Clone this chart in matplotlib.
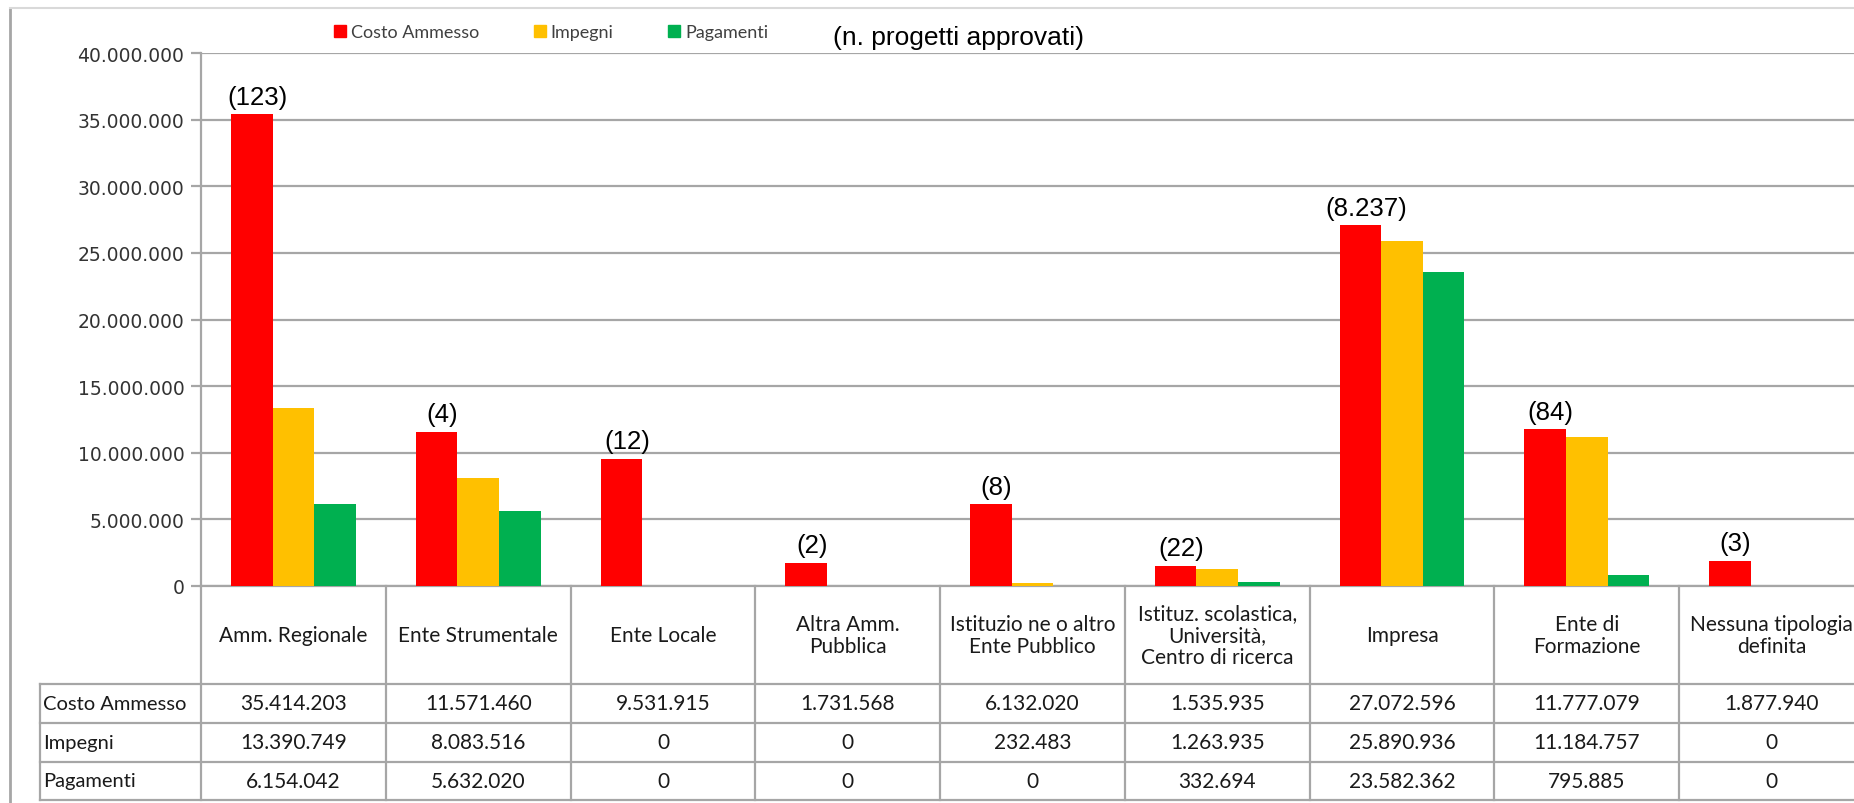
import matplotlib
matplotlib.use('Agg')
import matplotlib.pyplot as plt
import numpy as np
from matplotlib.lines import Line2D
from matplotlib.ticker import FuncFormatter

categorie = ["Amm. Regionale", "Ente Strumentale", "Ente Locale", "Altra Amm.\nPubblica",
             "Istituzio ne o altro\nEnte Pubblico",
             "Istituz. scolastica,\nUniversità,\nCentro di ricerca",
             "Impresa", "Ente di\nFormazione", "Nessuna tipologia\ndefinita"]
costo_ammesso = [35414203, 11571460, 9531915, 1731568, 6132020, 1535935, 27072596, 11777079, 1877940]
impegni = [13390749, 8083516, 0, 0, 232483, 1263935, 25890936, 11184757, 0]
pagamenti = [6154042, 5632020, 0, 0, 0, 332694, 23582362, 795885, 0]
n_progetti = ["(123)", "(4)", "(12)", "(2)", "(8)", "(22)", "(8.237)", "(84)", "(3)"]
serie = ["Costo Ammesso", "Impegni", "Pagamenti"]
colori = ["#FF0000", "#FFC000", "#00B050"]
y_ticks = np.arange(0, 40000001, 5000000)

W, H = 1854, 804
GRIGIO = '#a6a6a6'
TESTO = '#1a1a1a'


def fx(p):
    return p / W


def fy(p):
    return 1 - p / H


def fmt(v):
    return f"{int(v):,}".replace(",", ".")


fig = plt.figure(figsize=(W / 100, H / 100), dpi=100)

# area del grafico (esce un po' a destra, come nell'originale)
x0, x1, ytop, yzero, ybot = 201, 1864, 54, 587, 801
ax = fig.add_axes([fx(x0), fy(yzero), fx(x1 - x0), (yzero - ytop) / H])
x = np.arange(len(categorie))
bw = 0.225
valori = [costo_ammesso, impegni, pagamenti]
for i in range(3):
    ax.bar(x + (i - 1) * bw, valori[i], bw, color=colori[i], zorder=3)

ax.set_xlim(-0.5, len(categorie) - 0.5)
ax.set_ylim(0, 40000000)
ax.set_yticks(y_ticks)
ax.yaxis.set_major_formatter(FuncFormatter(lambda v, p: fmt(v)))
ax.set_xticks([])
ax.yaxis.grid(True, color=GRIGIO, lw=1.6, zorder=0)
ax.set_axisbelow(True)
for s in ['top', 'right']:
    ax.spines[s].set_visible(False)
for s in ['left', 'bottom']:
    ax.spines[s].set_color(GRIGIO)
    ax.spines[s].set_linewidth(1.6)
ax.tick_params(axis='y', length=7, width=1.6, color=GRIGIO, labelsize=13.5,
               labelcolor='#333333', pad=5)

# numero progetti sopra la barra rossa
for xi, v, lab in zip(x - bw, costo_ammesso, n_progetti):
    ax.annotate(lab, (xi + 0.03, v), xytext=(0, 4), textcoords='offset points',
                ha='center', va='bottom', fontsize=18.5, family='Liberation Sans',
                color='black')

# legenda
handles = [Line2D([], [], ls='none', marker='s', markersize=9, color=c) for c in colori]
fig.legend(handles, serie, loc='center left', bbox_to_anchor=(fx(325), fy(33)),
           ncol=3, frameon=False, borderpad=0, handlelength=0.7, handletextpad=0.25,
           columnspacing=3.0, prop={'family': 'Lato', 'size': 13}, labelcolor='#404040')
fig.text(fx(833), fy(38), "(n. progetti approvati)", fontsize=19,
         family='Liberation Sans', va='center', ha='left')

# tabella dati
tab = fig.add_axes([fx(x0), fy(ybot), fx(x1 - x0), (ybot - yzero) / H])
tab.set_xlim(-0.5, len(categorie) - 0.5)
tab.set_ylim(ybot, yzero)
tab.axis('off')
righe = [685, 724, 763, 801]
x_lab = -0.5 - (x0 - 40) / ((x1 - x0) / len(categorie))
kw = dict(color=GRIGIO, lw=1.6, clip_on=False)
for k in range(len(categorie) + 1):
    tab.plot([k - 0.5, k - 0.5], [yzero, ybot], **kw)
for r in righe:
    tab.plot([x_lab, len(categorie)], [r, r], **kw)
tab.plot([x_lab, x_lab], [righe[0], ybot], **kw)

for xi, c in zip(x, categorie):
    tab.text(xi, (yzero + righe[0]) / 2, c, ha='center', va='center', family='Lato',
             fontsize=15, color=TESTO, linespacing=1.15, clip_on=False)
for j in range(3):
    yc = (righe[j] + righe[j + 1]) / 2
    tab.text(x_lab + 0.015, yc, serie[j], ha='left', va='center', family='Lato',
             fontsize=14.5, color=TESTO)
    for xi, v in zip(x, valori[j]):
        tab.text(xi, yc, fmt(v), ha='center', va='center', family='Lato',
                 fontsize=15, color=TESTO, clip_on=False)

# cornice esterna
fig.add_artist(Line2D([fx(10), fx(10)], [fy(9), 0], color=GRIGIO, lw=2))
fig.add_artist(Line2D([fx(10), 1], [fy(9), fy(9)], color='#d9d9d9', lw=1.5))

fig.savefig('out.png', dpi=100)
